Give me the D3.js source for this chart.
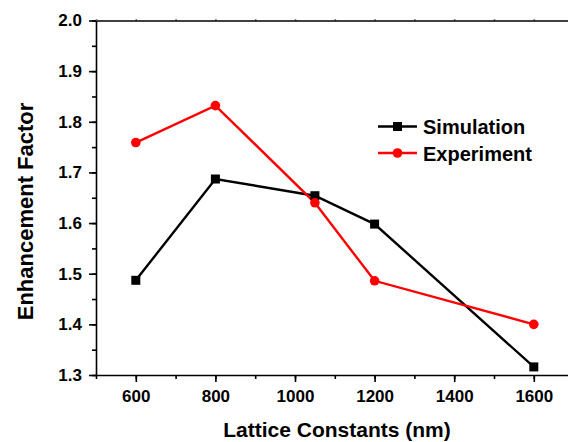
<!DOCTYPE html>
<html><head><meta charset="utf-8">
<script src="https://cdn.jsdelivr.net/npm/d3@7"></script>
<style>body{margin:0;background:#fff;} svg{display:block;font-family:"Liberation Sans",Arial,sans-serif;}</style>
</head><body>
<svg id="c" width="568" height="442"></svg>
<script>
const lattice = [600, 800, 1050, 1200, 1600];
const simulation = [1.487, 1.687, 1.654, 1.598, 1.316];
const experiment = [1.759, 1.832, 1.640, 1.486, 1.400];
const xTicks = [600, 800, 1000, 1200, 1400, 1600];
const yTicks = [1.3, 1.4, 1.5, 1.6, 1.7, 1.8, 1.9, 2.0];
const seriesNames = ["Simulation", "Experiment"];
const colors = ["#000000", "#ff0000"];

const svg = d3.select("#c");
const x = d3.scaleLinear().domain([500, 1700]).range([96, 573.6]);
const y = d3.scaleLinear().domain([1.3, 2.0]).range([375, 20.5]);

const xMinor = d3.range(500, 1701, 100);
const yMinor = d3.range(13, 20.01, 0.5).map(v => +(v/10).toFixed(3));
const FF = '"Liberation Sans",Arial,sans-serif';

const gx = svg.append("g").attr("transform", `translate(0,${y(1.3)})`);
gx.call(d3.axisBottom(x).tickValues(xMinor).tickSize(4).tickFormat(""));
gx.call(g => g.select(".domain").remove());
const gx2 = svg.append("g").attr("transform", `translate(0,${y(1.3)})`)
  .call(d3.axisBottom(x).tickValues(xTicks).tickSize(7).tickSizeOuter(0).tickFormat(d3.format("d")));
gx2.selectAll("text").attr("font-size", 17).attr("font-weight", "bold").attr("y", 15).attr("dy", "0.71em")
  .attr("font-family", FF).attr("fill", "#000");

const gy = svg.append("g").attr("transform", `translate(${x(500)},0)`);
gy.call(d3.axisLeft(y).tickValues(yMinor).tickSize(4).tickFormat(""));
gy.call(g => g.select(".domain").remove());
const gy2 = svg.append("g").attr("transform", `translate(${x(500)},0)`)
  .call(d3.axisLeft(y).tickValues(yTicks).tickSize(7).tickSizeOuter(0).tickFormat(d3.format(".1f")));
gy2.selectAll("text").attr("font-size", 17).attr("font-weight", "bold").attr("x", -14)
  .attr("font-family", FF).attr("fill", "#000");

svg.append("g").attr("transform", `translate(0,${y(2.0)})`)
  .call(d3.axisTop(x).tickValues(xMinor).tickSize(1).tickSizeOuter(0).tickFormat(""));

svg.selectAll(".domain, .tick line").attr("stroke", "#000").attr("stroke-width", 1.6);

const seriesData = [simulation, experiment];
const line = d3.line().x((d, i) => x(lattice[i])).y(d => y(d));
seriesData.forEach((vals, s) => {
  svg.append("path").datum(vals).attr("d", line).attr("fill", "none")
    .attr("stroke", colors[s]).attr("stroke-width", 2.4);
});
svg.selectAll(".sq").data(simulation).enter().append("rect")
  .attr("x", (d, i) => x(lattice[i]) - 4.5).attr("y", d => y(d) - 4.5)
  .attr("width", 9).attr("height", 9).attr("fill", colors[0]);
svg.selectAll(".ci").data(experiment).enter().append("circle")
  .attr("cx", (d, i) => x(lattice[i])).attr("cy", d => y(d)).attr("r", 4.8).attr("fill", colors[1]);

const legY = [126.5, 153];
seriesNames.forEach((n, s) => {
  const ly = legY[s];
  svg.append("line").attr("x1", 378).attr("x2", 417).attr("y1", ly).attr("y2", ly)
    .attr("stroke", colors[s]).attr("stroke-width", 2.4);
  if (s === 0) svg.append("rect").attr("x", 397.5 - 4.5).attr("y", ly - 4.5).attr("width", 9).attr("height", 9).attr("fill", colors[0]);
  else svg.append("circle").attr("cx", 397.5).attr("cy", ly).attr("r", 4.8).attr("fill", colors[1]);
  svg.append("text").attr("x", 423).attr("y", ly + 7.5).attr("font-size", 20).attr("font-weight", "bold").text(n);
});

svg.append("text").attr("x", 337).attr("y", 436.5).attr("text-anchor", "middle")
  .attr("font-size", 21).attr("font-weight", "bold").text("Lattice Constants (nm)");
svg.append("text").attr("transform", "translate(32.5,211.5) rotate(-90)").attr("text-anchor", "middle")
  .attr("font-size", 22).attr("font-weight", "bold").text("Enhancement Factor");
</script>
</body></html>
